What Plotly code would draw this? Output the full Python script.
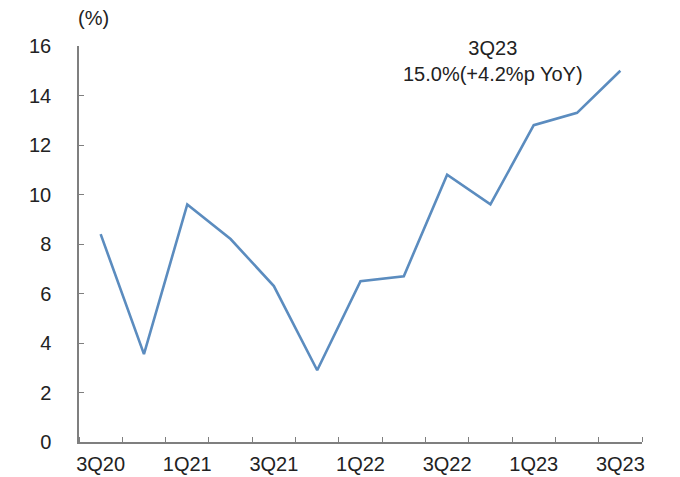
import plotly.graph_objects as go

quarters = ["3Q20", "4Q20", "1Q21", "2Q21", "3Q21", "4Q21", "1Q22",
            "2Q22", "3Q22", "4Q22", "1Q23", "2Q23", "3Q23"]
values = [8.4, 3.55, 9.6, 8.2, 6.3, 2.9, 6.5, 6.7, 10.8, 9.6, 12.8, 13.3, 15.0]
y_ticks = [0, 2, 4, 6, 8, 10, 12, 14, 16]

FONT = "Liberation Sans, Arial, sans-serif"
AX = "#7f7f7f"
TXT = "#222222"

x_idx = list(range(len(quarters)))
label_idx = x_idx[::2]

fig = go.Figure()
fig.add_trace(go.Scatter(
    x=x_idx, y=values, mode="lines",
    line=dict(color="#5b8cbf", width=2.6),
    hoverinfo="skip", showlegend=False,
))

# page body has an 8px default margin, so the figure is sized to fit the window
fig.update_layout(
    width=672, height=469,
    margin=dict(l=71, r=38, t=38, b=35),
    paper_bgcolor="white", plot_bgcolor="white",
    font=dict(family=FONT, size=20, color=TXT),
    xaxis=dict(
        range=[-0.5, len(quarters) - 0.5],
        tickmode="array",
        tickvals=label_idx,
        ticktext=[quarters[i] for i in label_idx],
        ticks="", showgrid=False, zeroline=False,
        showline=True, linecolor=AX, linewidth=1.5,
        ticklabelstandoff=3, automargin=False,
        tickfont=dict(family=FONT, size=20, color=TXT),
        minor=dict(ticks="inside", tick0=-0.5, dtick=1, ticklen=5,
                   tickcolor=AX, tickwidth=1, showgrid=False),
    ),
    yaxis=dict(
        range=[0, 16],
        tickmode="array", tickvals=y_ticks,
        ticks="inside", ticklen=5, tickcolor=AX, tickwidth=1,
        showgrid=False, zeroline=False,
        showline=True, linecolor=AX, linewidth=1.5,
        ticklabelstandoff=22, automargin=False,
        tickfont=dict(family=FONT, size=20, color=TXT),
    ),
    annotations=[
        dict(text="(%)", xref="paper", yref="paper", x=0.025, y=1.0,
             yshift=28, showarrow=False, xanchor="center", yanchor="middle",
             font=dict(family=FONT, size=20, color=TXT)),
        dict(text="3Q23<br>15.0%(+4.2%p YoY)", xref="paper", yref="paper",
             x=0.735, y=1.0, yshift=-15, showarrow=False,
             xanchor="center", yanchor="middle", align="center",
             font=dict(family=FONT, size=20, color=TXT)),
    ],
)

fig.write_html("out.html")
